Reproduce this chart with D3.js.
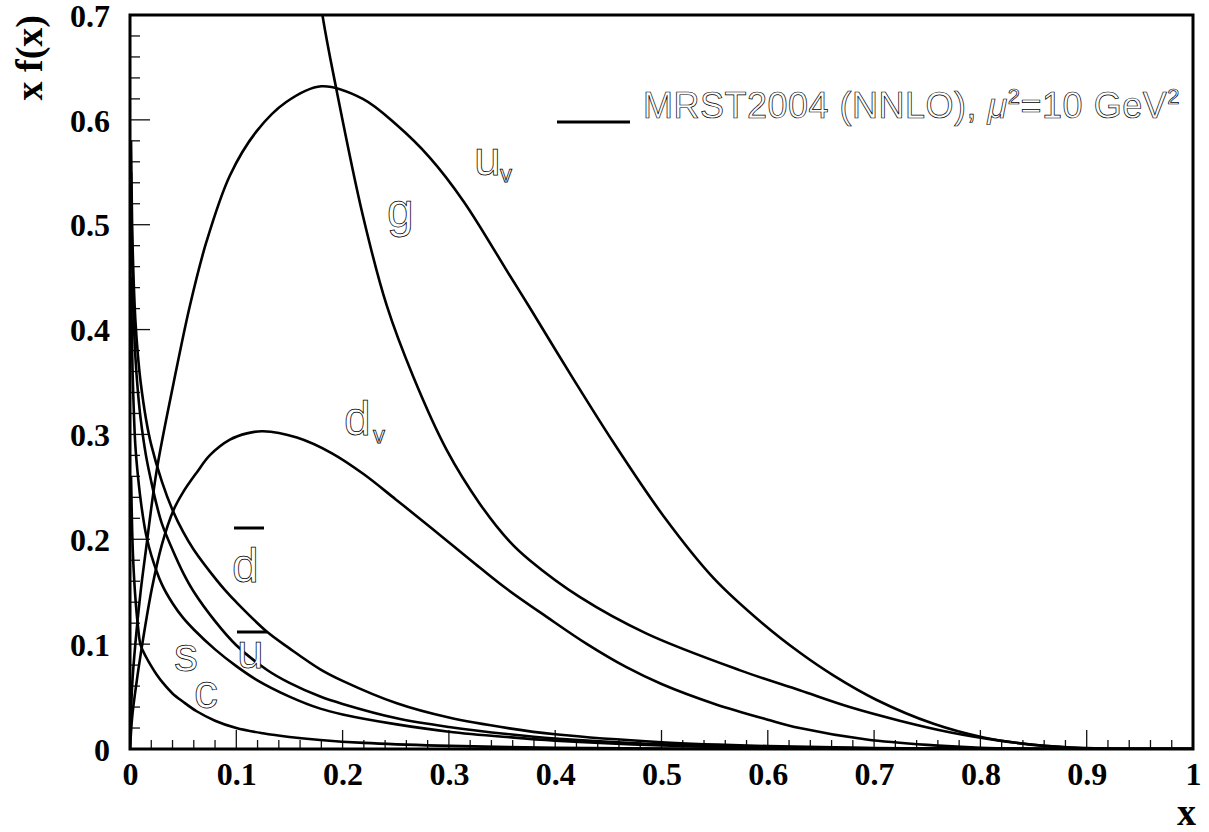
<!DOCTYPE html>
<html><head><meta charset="utf-8">
<script src="https://cdn.jsdelivr.net/npm/d3@7/dist/d3.min.js"></script>
<style>
html,body{margin:0;padding:0;background:#fff;}
svg{display:block;}
.outl{fill:#fff;stroke:#000;stroke-width:0.75px;font-family:"Liberation Sans",Arial,sans-serif;}
.tick{font-family:"Liberation Serif","Times New Roman",serif;font-weight:bold;font-size:32px;fill:#000;}
</style></head>
<body>
<svg id="c" width="1209" height="832"></svg>
<script>
// ---- data (x, x f(x)) ----
const uValence = [[0,0],[0.002,0.06],[0.005,0.10],[0.01,0.15],[0.015,0.19],[0.025,0.265],[0.041,0.349],[0.0564,0.423],[0.072,0.484],[0.094,0.547],[0.119,0.589],[0.147,0.617],[0.180,0.632],[0.219,0.620],[0.251,0.595],[0.282,0.564],[0.314,0.522],[0.357,0.452],[0.376,0.421],[0.417,0.353],[0.455,0.292],[0.502,0.222],[0.549,0.163],[0.596,0.119],[0.63,0.092],[0.662,0.070],[0.702,0.047],[0.756,0.024],[0.803,0.011],[0.85,0.004],[0.9,0.0008],[0.95,0],[1,0]];
const dValence = [[0,0],[0.002,0.03],[0.005,0.055],[0.01,0.09],[0.0204,0.152],[0.03,0.195],[0.041,0.228],[0.05,0.245],[0.063,0.264],[0.075,0.280],[0.094,0.295],[0.11,0.301],[0.125,0.303],[0.157,0.297],[0.19,0.282],[0.22,0.262],[0.25,0.238],[0.282,0.212],[0.329,0.173],[0.354,0.153],[0.392,0.126],[0.43,0.100],[0.467,0.078],[0.5,0.062],[0.55,0.043],[0.6,0.028],[0.63,0.020],[0.693,0.009],[0.756,0.0035],[0.8,0.0012],[0.85,0.0002],[0.9,0],[1,0]];
const gluon = [[0.14,1.0],[0.16,0.85],[0.181,0.70],[0.194,0.630],[0.219,0.509],[0.2415,0.423],[0.2665,0.355],[0.298,0.285],[0.329,0.234],[0.357,0.198],[0.376,0.180],[0.423,0.145],[0.486,0.110],[0.574,0.075],[0.63,0.056],[0.677,0.040],[0.724,0.027],[0.771,0.016],[0.818,0.008],[0.86,0.003],[0.9,0.0005],[0.95,0],[1,0]];
const dBar = [[0.001,0.58],[0.002,0.50],[0.003,0.46],[0.005,0.41],[0.0075,0.375],[0.01,0.35],[0.015,0.315],[0.02,0.29],[0.03,0.255],[0.04,0.228],[0.05,0.207],[0.06,0.190],[0.0815,0.161],[0.089,0.152],[0.1,0.140],[0.1286,0.112],[0.15,0.096],[0.179,0.076],[0.2,0.065],[0.251,0.0436],[0.3,0.030],[0.357,0.0197],[0.4,0.014],[0.5,0.0065],[0.6,0.0028],[0.7,0.001],[0.8,0.0002],[0.9,0],[1,0]];
const uBar = [[0.001,0.55],[0.002,0.47],[0.003,0.425],[0.005,0.375],[0.0075,0.34],[0.01,0.315],[0.015,0.28],[0.02,0.255],[0.025,0.233],[0.03,0.215],[0.04,0.19],[0.05,0.168],[0.06,0.150],[0.08,0.122],[0.1,0.099],[0.129,0.0753],[0.15,0.063],[0.179,0.050],[0.2,0.043],[0.251,0.0293],[0.3,0.021],[0.357,0.014],[0.4,0.010],[0.5,0.0045],[0.6,0.0018],[0.7,0.0006],[0.8,0.0001],[0.9,0],[1,0]];
const sQuark = [[0.001,0.45],[0.002,0.38],[0.003,0.34],[0.005,0.29],[0.0075,0.26],[0.011,0.230],[0.015,0.205],[0.02,0.185],[0.03,0.157],[0.04,0.139],[0.05,0.125],[0.06,0.114],[0.08,0.095],[0.1,0.079],[0.119,0.066],[0.15,0.050],[0.179,0.0385],[0.2,0.033],[0.251,0.0235],[0.3,0.0165],[0.357,0.0112],[0.4,0.008],[0.5,0.0035],[0.6,0.0013],[0.7,0.0004],[0.8,0],[1,0]];
const cQuark = [[0.001,0.26],[0.002,0.21],[0.003,0.18],[0.005,0.145],[0.0075,0.117],[0.01,0.099],[0.015,0.088],[0.02,0.079],[0.025,0.071],[0.031,0.063],[0.04,0.053],[0.05,0.045],[0.0627,0.036],[0.08,0.027],[0.1,0.020],[0.125,0.015],[0.15,0.0115],[0.179,0.0086],[0.22,0.0058],[0.29,0.0032],[0.4,0.0012],[0.5,0.0004],[0.6,0],[1,0]];
const uBarGap = [0.1, 0.129];
const xTicks = [0,0.1,0.2,0.3,0.4,0.5,0.6,0.7,0.8,0.9,1];
const xTickLabels = ["0","0.1","0.2","0.3","0.4","0.5","0.6","0.7","0.8","0.9","1"];
const yTicks = [0,0.1,0.2,0.3,0.4,0.5,0.6,0.7];
const yTickLabels = ["0","0.1","0.2","0.3","0.4","0.5","0.6","0.7"];

// ---- layout ----
const L=130, R=1193, T=15, B=749;
const svg = d3.select("#c");
const x = d3.scaleLinear().domain([0,1]).range([L,R]);
const y = d3.scaleLinear().domain([0,0.7]).range([B,T]);

svg.append("defs").append("clipPath").attr("id","clip")
  .append("rect").attr("x",L).attr("y",T).attr("width",R-L).attr("height",B-T);

// ticks
const isMajor = d => Math.abs(d*10-Math.round(d*10))<1e-6;
const minorX = d3.range(0,1.0001,0.02);
const minorY = d3.range(0,0.7001,0.02);
const tg = svg.append("g");
tg.selectAll("line.mx").data(minorX).enter().append("line")
  .attr("x1",d=>x(d)).attr("x2",d=>x(d)).attr("y1",B).attr("y2",d=>B-(isMajor(d)?19:9))
  .attr("stroke","#111").attr("stroke-width",1.3);
tg.selectAll("line.my").data(minorY).enter().append("line")
  .attr("y1",d=>y(d)).attr("y2",d=>y(d)).attr("x1",L).attr("x2",d=>L+(isMajor(d)?20:10))
  .attr("stroke","#111").attr("stroke-width",1.3);

// tick labels via d3 axes
const xAxis = d3.axisBottom(x).tickValues(xTicks).tickFormat((d,i)=>xTickLabels[i]).tickSize(0).tickPadding(0);
const gx = svg.append("g").attr("transform",`translate(0,${B})`).call(xAxis);
gx.select(".domain").remove();
gx.selectAll("text").attr("class","tick").attr("dy",null).attr("y",36);
const yAxis = d3.axisLeft(y).tickValues(yTicks).tickFormat((d,i)=>yTickLabels[i]).tickSize(0).tickPadding(0);
const gy = svg.append("g").attr("transform",`translate(${L},0)`).call(yAxis);
gy.select(".domain").remove();
gy.selectAll("text").attr("class","tick").attr("x",-20).attr("dy","0.35em");

// curves
const line = d3.line().x(d=>x(d[0])).y(d=>y(d[1])).curve(d3.curveCatmullRom.alpha(0.5));
const cg = svg.append("g").attr("clip-path","url(#clip)")
  .attr("fill","none").attr("stroke","#000").attr("stroke-width",2.6).attr("stroke-linejoin","round");
[uValence,dValence,gluon,dBar,sQuark,cQuark].forEach(s=>cg.append("path").attr("d",line(s)));
cg.append("path").attr("d",line.defined(d=>d[0]<=uBarGap[0]||d[0]>=uBarGap[1])(uBar));

// frame
svg.append("rect").attr("x",L).attr("y",T).attr("width",R-L).attr("height",B-T)
  .attr("fill","none").attr("stroke","#000").attr("stroke-width",3);

// axis titles
svg.append("text").attr("class","tick").style("font-size","38px").attr("text-anchor","end")
  .attr("x",1196).attr("y",825).text("x");
svg.append("text").attr("class","tick").style("font-size","38px").attr("text-anchor","end")
  .attr("transform","translate(42,15) rotate(-90)").text("x f(x)");

// curve labels (outlined text)
function lab(tx,ty,t,size){ return svg.append("text").attr("class","outl").attr("x",tx).attr("y",ty).style("font-size",size+"px").text(t); }
lab(474,175,"u",48); lab(500,182,"v",24);
lab(387,227,"g",48);
lab(344,435,"d",48); lab(373,443,"v",24);
lab(232,582,"d",48);
lab(237,668,"u",48);
lab(174,671,"s",48);
lab(194,708,"c",48);
svg.append("line").attr("x1",234).attr("x2",264).attr("y1",528).attr("y2",528).attr("stroke","#000").attr("stroke-width",3);
svg.append("line").attr("x1",237).attr("x2",267).attr("y1",632).attr("y2",632).attr("stroke","#000").attr("stroke-width",3);

// legend
svg.append("line").attr("x1",557).attr("x2",630).attr("y1",122).attr("y2",122).attr("stroke","#000").attr("stroke-width",3);
const lt = svg.append("text").attr("class","outl").attr("x",643).attr("y",118)
  .style("font-size","36px").style("stroke-width","0.7px").style("letter-spacing","0.5px");
lt.append("tspan").text("MRST2004 (NNLO), ");
lt.append("tspan").style("font-style","italic").text("\u03BC");
lt.append("tspan").attr("dy",-14).style("font-size","22px").text("2");
lt.append("tspan").attr("dy",14).text("=10 GeV");
lt.append("tspan").attr("dy",-14).style("font-size","22px").text("2");
</script>
</body></html>
